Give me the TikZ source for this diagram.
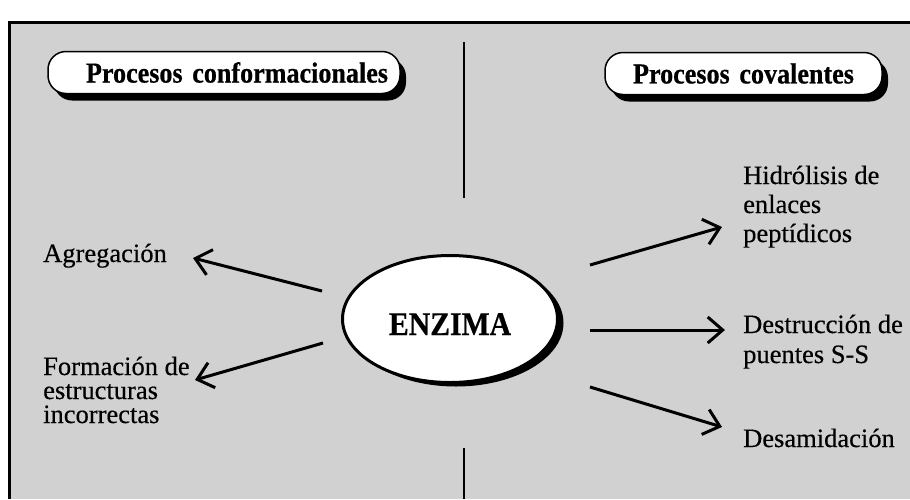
\documentclass[tikz,border=0pt]{standalone}
\usepackage{fontspec}
\setmainfont{Liberation Serif}
\newfontfamily\escaneo[FakeBold=0.4]{Liberation Serif}
\newfontfamily\titulofont[FakeStretch=0.9,FakeBold=0.6]{Liberation Serif}
\usetikzlibrary{arrows.meta,shapes.geometric,shadows}

\tikzset{
  flecha/.style={line width=3pt, -{Straight Barb[length=15pt,width=26pt]}},
  texto/.style={anchor=base west, inner sep=0pt, align=left, font=\escaneo\fontsize{26.5}{29}\selectfont},
  titulo/.style={draw, line width=1.5pt, fill=white, rounded corners=18pt, minimum height=42pt,
    inner xsep=12pt, font=\titulofont\fontsize{29}{32}\selectfont\bfseries,
    drop shadow={shadow xshift=6pt, shadow yshift=-7pt, opacity=1, fill=black}}
}

\begin{document}
\begin{tikzpicture}[x=1pt, y=-1pt]
\useasboundingbox (0,0) rectangle (910,499);
\fill[black!18] (9,22) rectangle (910,499);
\draw[line width=3pt] (910,22) -- (9,22) -- (9,499);
\draw[line width=2.5pt] (464,42) -- (464,198);
\draw[line width=2.5pt] (464,448) -- (464,499);

\node (conf) at (224,72.5) [titulo, text width=328pt, align=right] {Procesos conformacionales};
\node (cov) at (743.5,73.5) [titulo, text width=253pt, align=center] {Procesos covalentes};

\node (enzima) at (450,319) [ellipse, draw, line width=3pt, fill=white, minimum width=215pt,
    minimum height=127pt, inner sep=0pt, text height=32pt, text depth=0pt,
    font=\titulofont\fontsize{33}{36}\selectfont\bfseries,
    drop shadow={shadow xshift=6pt, shadow yshift=-4pt, opacity=1, fill=black}] {ENZIMA};

\node (agreg) at (43,262) [texto] {Agregación};
	\draw[flecha] ([shift={(-128,-28)}]enzima.center) -- ([shift={(150,-4)}]agreg.base west);
\node (formacion) at (43,423) [texto, font=\escaneo\fontsize{26.5}{24}\selectfont] {Formación de\\estructuras\\incorrectas};
	\draw[flecha] ([shift={(-127,24)}]enzima.center) -- ([shift={(152,-43)}]formacion.base west);

\node (hidrolisis) at (743,242) [texto] {Hidrólisis de\\enlaces\\peptídicos};
	\draw[flecha] ([shift={(140,-54)}]enzima.center) -- ([shift={(-21,-15)}]hidrolisis.base west);
\node (destruccion) at (743,363) [texto, font=\escaneo\fontsize{26.5}{30}\selectfont] {Destrucción de\\puentes S-S};
	\draw[flecha] ([shift={(140,11)}]enzima.center) -- ([shift={(-18,-33)}]destruccion.base west);
\node (desamidacion) at (743,447) [texto] {Desamidación};
	\draw[flecha] ([shift={(140,68)}]enzima.center) -- ([shift={(-21,-20)}]desamidacion.base west);
\end{tikzpicture}
\end{document}
